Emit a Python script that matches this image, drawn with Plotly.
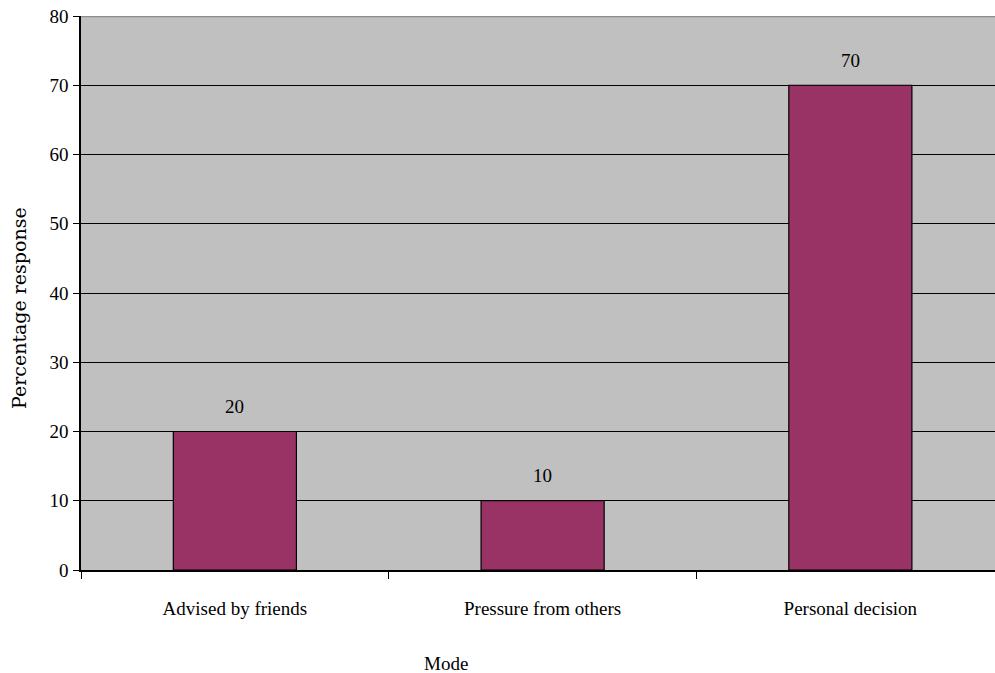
import plotly.graph_objects as go

# Reasons given for the decision, as percentage of responses
categories = ["Advised by friends", "Pressure from others", "Personal decision"]
percentages = [20, 10, 70]
y_ticks = [0, 10, 20, 30, 40, 50, 60, 70, 80]

serif = "Liberation Serif"
bar_color = "#993366"
plot_bg = "#C0C0C0"

fig = go.Figure()
fig.add_trace(go.Bar(
    x=categories,
    y=percentages,
    width=0.4,
    marker=dict(color=bar_color, line=dict(color="#000000", width=1.2)),
    hoverinfo="x+y",
))

# value labels above each bar
for cat, val in zip(categories, percentages):
    fig.add_annotation(
        x=cat, y=val, text=str(val), showarrow=False,
        yshift=25, font=dict(family=serif, size=19, color="#000000"),
    )

# axis titles
fig.add_annotation(
    xref="paper", yref="paper", x=(446 - 81) / 914, y=-(663 - 570) / 554,
    text="Mode", showarrow=False, xanchor="center", yanchor="middle",
    font=dict(family=serif, size=19, color="#000000"),
)
fig.add_annotation(
    xref="paper", yref="paper", x=-(81 - 19) / 914, y=(570 - 308) / 554,
    text="Percentage response", showarrow=False, textangle=-90,
    xanchor="center", yanchor="middle",
    font=dict(family="DejaVu Serif", size=19, color="#000000"),
)

# grey border along the top of the plot area
fig.add_shape(
    type="line", xref="paper", yref="y", x0=0, x1=1, y0=80, y1=80,
    line=dict(color="#8c8c8c", width=2.5), layer="above",
)

fig.update_layout(
    width=995, height=673,
    margin=dict(l=81, r=0, t=16, b=103),
    paper_bgcolor="#FFFFFF",
    plot_bgcolor=plot_bg,
    showlegend=False,
    bargap=0.6,
    font=dict(family=serif, size=19, color="#000000"),
)
fig.update_xaxes(
    type="category",
    range=[-0.5, 2.47],
    showgrid=False,
    showline=True, linecolor="#000000", linewidth=1.5,
    ticks="outside", tickson="boundaries", ticklen=7, tickcolor="#000000", tickwidth=1,
    ticklabelstandoff=20,
    tickfont=dict(family=serif, size=19, color="#000000"),
)
fig.update_yaxes(
    range=[0, 80],
    tickvals=y_ticks,
    showgrid=True, gridcolor="#000000", gridwidth=1,
    zeroline=False,
    showline=True, linecolor="#000000", linewidth=1.5,
    ticks="outside", ticklen=6, tickcolor="#000000", tickwidth=1,
    ticklabelstandoff=1,
    tickfont=dict(family=serif, size=19, color="#000000"),
)

fig.write_html("out.html")
